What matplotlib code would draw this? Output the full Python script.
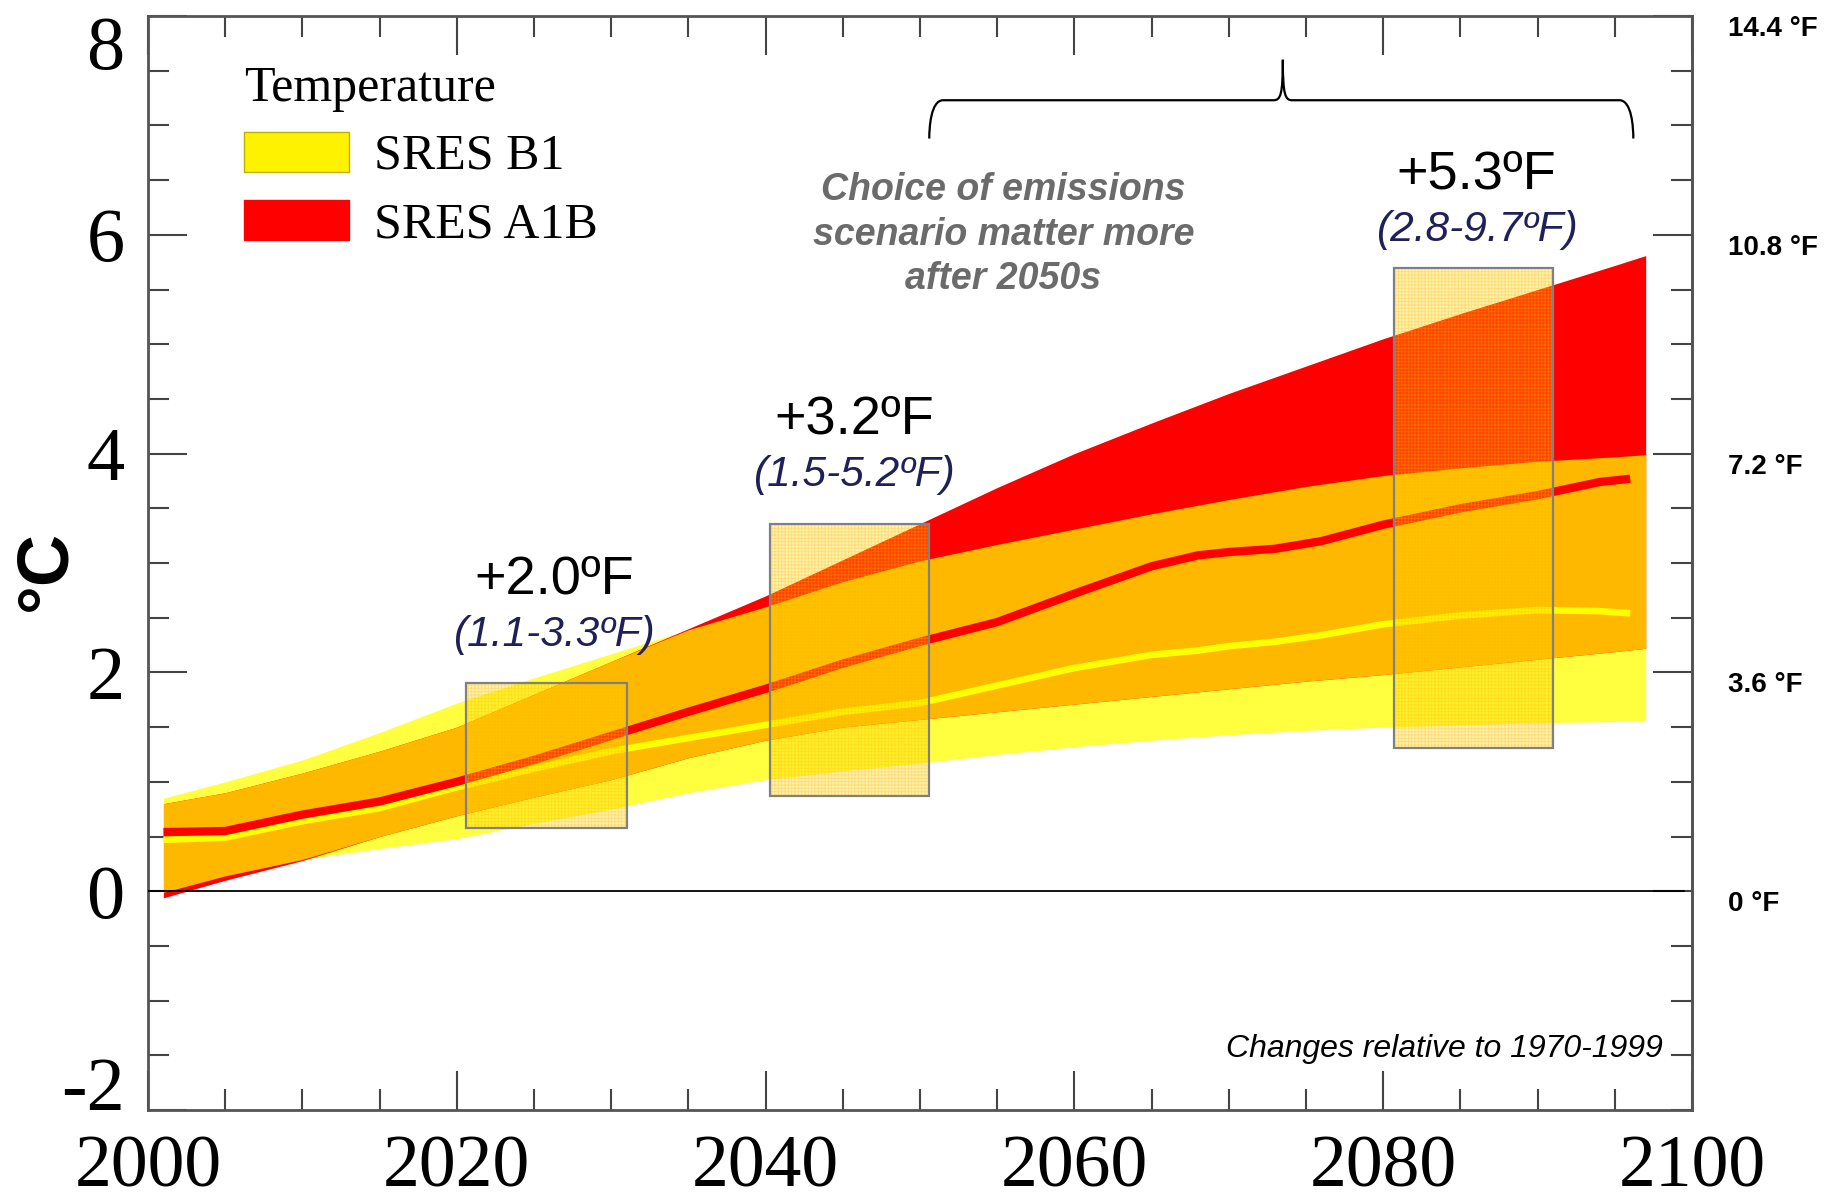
import matplotlib
matplotlib.use("Agg")
import numpy as np
import matplotlib.pyplot as plt
from matplotlib.patches import Rectangle, Patch, PathPatch
from matplotlib.path import Path
from matplotlib.ticker import MultipleLocator, FixedLocator

# ---- data (deg C, relative to 1970-1999) ----
years = [2001, 2005, 2010, 2015, 2020, 2025, 2030, 2035, 2040, 2045, 2050,
         2055, 2060, 2065, 2070, 2075, 2080, 2085, 2090, 2095, 2097]
b1_low = [-0.01, 0.14, 0.29, 0.39, 0.48, 0.62, 0.75, 0.90, 1.02, 1.10, 1.17,
          1.25, 1.32, 1.38, 1.43, 1.47, 1.50, 1.52, 1.54, 1.55, 1.56]
b1_high = [0.85, 1.00, 1.20, 1.45, 1.72, 1.95, 2.17, 2.39, 2.60, 2.83, 3.02,
           3.17, 3.31, 3.45, 3.58, 3.70, 3.80, 3.87, 3.93, 3.97, 3.99]
a1b_low = [-0.06, 0.10, 0.28, 0.50, 0.69, 0.86, 1.02, 1.22, 1.38, 1.50, 1.57,
           1.64, 1.71, 1.78, 1.85, 1.92, 1.98, 2.05, 2.12, 2.19, 2.22]
a1b_high = [0.80, 0.90, 1.08, 1.28, 1.50, 1.80, 2.10, 2.40, 2.70, 3.03, 3.36,
            3.69, 4.00, 4.28, 4.55, 4.80, 5.05, 5.28, 5.50, 5.72, 5.81]

mean_years = [2001, 2005, 2010, 2015, 2020, 2025, 2030, 2035, 2040, 2045, 2050,
              2055, 2060, 2065, 2068, 2070, 2073, 2076, 2080, 2085, 2090, 2094, 2096]
a1b_mean = [0.54, 0.55, 0.70, 0.82, 1.00, 1.20, 1.42, 1.64, 1.85, 2.08, 2.28,
            2.46, 2.72, 2.97, 3.07, 3.10, 3.13, 3.20, 3.35, 3.50, 3.62, 3.74, 3.77]
b1_mean = [0.47, 0.49, 0.64, 0.76, 0.95, 1.12, 1.28, 1.40, 1.52, 1.64, 1.72,
           1.88, 2.04, 2.16, 2.20, 2.24, 2.28, 2.34, 2.44, 2.52, 2.57, 2.56, 2.54]

# highlighted periods and their ranges
box_start = [2020.6, 2040.3, 2080.7]
box_end = [2031.0, 2050.6, 2091.0]
box_low = [0.58, 0.87, 1.31]
box_high = [1.90, 3.36, 5.70]
box_mid_f = ["+2.0ºF", "+3.2ºF", "+5.3ºF"]
box_range_f = ["(1.1-3.3ºF)", "(1.5-5.2ºF)", "(2.8-9.7ºF)"]

f_ticks = [0, 3.6, 7.2, 10.8, 14.4]

YELLOW = "#ffff40"
ORANGE = "#ffb800"
RED = "#ff0000"
SANS = "Liberation Sans"
SERIF = "Liberation Serif"

plt.rcParams["font.family"] = SERIF
plt.rcParams["axes.unicode_minus"] = False
plt.rcParams["hatch.linewidth"] = 0.7

fig = plt.figure(figsize=(18.45, 12), dpi=100)
ax = fig.add_axes([148 / 1845, 1 - 1110 / 1200, 1544 / 1845, 1094 / 1200])

x = np.array(years)
lo1, hi1 = np.array(b1_low), np.array(b1_high)
lo2, hi2 = np.array(a1b_low), np.array(a1b_high)

ax.fill_between(x, lo1, hi1, color=YELLOW, lw=0, zorder=2)
ax.fill_between(x, lo2, hi2, color=RED, lw=0, zorder=2)
ov_lo = np.maximum(lo1, lo2)
ov_hi = np.minimum(hi1, hi2)
ax.fill_between(x, ov_lo, ov_hi, where=ov_hi > ov_lo, interpolate=True,
                color=ORANGE, lw=0, zorder=3)

ax.plot(mean_years, b1_mean, color="#ffff00", lw=4.8, zorder=4,
        solid_capstyle="butt")
ax.plot(mean_years, a1b_mean, color=RED, lw=6, zorder=5,
        solid_capstyle="butt")

ax.axhline(0, xmin=0, xmax=0.995, color="black", lw=1.3, zorder=6)

# hatched boxes with labels
lift = [0, 0, -0.1]
shift = [0.5, 0.3, 0.2]
for x0, x1, y0, y1, t1, t2, dy, dx in zip(box_start, box_end, box_low,
                                          box_high, box_mid_f, box_range_f,
                                          lift, shift):
    ax.add_patch(Rectangle((x0, y0), x1 - x0, y1 - y0, facecolor="#ffd600",
                           alpha=0.3, lw=0, zorder=7))
    ax.add_patch(Rectangle((x0, y0), x1 - x0, y1 - y0, fill=False,
                           hatch="+++++", edgecolor=(1, 0.72, 0.0, 0.35),
                           lw=0, zorder=7))
    ax.add_patch(Rectangle((x0, y0), x1 - x0, y1 - y0, fill=False,
                           edgecolor="#808080", lw=1.6, zorder=8))
    xc = (x0 + x1) / 2 + dx
    ax.text(xc, y1 + 0.95 + dy, t1, family=SANS, fontsize=39, color="black",
            ha="center", va="center", zorder=9)
    ax.text(xc, y1 + 0.44 + dy, t2, family=SANS, fontsize=30.5,
            style="italic", color="#202058", ha="center", va="center",
            zorder=9)

# curly brace over the second half of the century
xl, xr, xm = 2050.6, 2096.2, 2073.5
yb, ye, yt = 7.23, 6.88, 7.60
verts = [(xl, ye), (xl, yb - 0.25), (xl + 0.1, yb), (xl + 0.9, yb),
         (xm - 0.6, yb),
         (xm - 0.15, yb), (xm, yb + 0.05), (xm, yt),
         (xm, yb + 0.05), (xm + 0.15, yb), (xm + 0.6, yb),
         (xr - 0.9, yb),
         (xr - 0.1, yb), (xr, yb - 0.25), (xr, ye)]
codes = [Path.MOVETO, Path.CURVE4, Path.CURVE4, Path.CURVE4,
         Path.LINETO,
         Path.CURVE4, Path.CURVE4, Path.CURVE4,
         Path.CURVE4, Path.CURVE4, Path.CURVE4,
         Path.LINETO,
         Path.CURVE4, Path.CURVE4, Path.CURVE4]
ax.add_patch(PathPatch(Path(verts, codes), fill=False, lw=1.6,
                       edgecolor="black", zorder=9))

ax.text(2055.4, 6.0, "Choice of emissions\nscenario matter more\nafter 2050s",
        family=SANS, fontsize=27, fontweight="bold", style="italic",
        color="#6b6b6b", ha="center", va="center", linespacing=1.3)

ax.text(2098.1, -1.44, "Changes relative to 1970-1999", family=SANS,
        fontsize=23, style="italic", color="black", ha="right", va="center")

# legend
handles = [Patch(facecolor="#fff200", edgecolor="#bdb000", lw=1),
           Patch(facecolor=RED, edgecolor=RED, lw=1)]
leg = ax.legend(handles, ["SRES B1", "SRES A1B"], title="Temperature",
                loc="upper left", bbox_to_anchor=(0.062, 0.955),
                frameon=False, prop={"family": SERIF, "size": 36},
                title_fontproperties={"family": SERIF, "size": 36},
                alignment="left", handlelength=2.1, handleheight=0.85,
                handletextpad=0.5, labelspacing=0.4, borderpad=0,
                borderaxespad=0)

# axes, ticks
ax.set_xlim(2000, 2100)
ax.set_ylim(-2, 8)
ax.xaxis.set_major_locator(MultipleLocator(20))
ax.xaxis.set_minor_locator(MultipleLocator(5))
ax.set_yticks([-2, 0, 2, 4, 6, 8])
ax.yaxis.set_minor_locator(MultipleLocator(0.5))
ax.tick_params(which="both", direction="in", top=True, right=False,
               color="#444444", width=1.5)
ax.tick_params(which="major", length=28)
ax.tick_params(which="minor", length=15)
ax.tick_params(axis="x", labelsize=53, pad=18)
ax.tick_params(axis="y", labelsize=55, pad=17)
ylabels = ax.get_yticklabels()
ylabels[0].set_va("baseline")
ylabels[-1].set_va("top")
for sp in ax.spines.values():
    sp.set_color("#555555")
    sp.set_linewidth(2)

sec = ax.secondary_yaxis("right", functions=(lambda c: c * 1.8,
                                             lambda f: f / 1.8))
sec.yaxis.set_major_locator(FixedLocator(f_ticks))
sec.yaxis.set_minor_locator(MultipleLocator(0.9))
sec.set_yticklabels([f"{v:g} °F" for v in f_ticks])
sec.tick_params(which="both", direction="in", color="#444444", width=1.5)
sec.tick_params(which="major", length=28, pad=26)
sec.tick_params(which="minor", length=15)
for lab in sec.get_yticklabels():
    lab.set_fontfamily(SANS)
    lab.set_fontweight("bold")
    lab.set_fontsize(20)
    lab.set_va("top")
sec.spines["right"].set_color("#555555")
sec.spines["right"].set_linewidth(2)

ax.text(-0.066, 0.493, "°C", transform=ax.transAxes, rotation=90,
        family=SANS, fontsize=52, fontweight="bold", ha="center", va="center")

fig.savefig("out.png", dpi=100)
